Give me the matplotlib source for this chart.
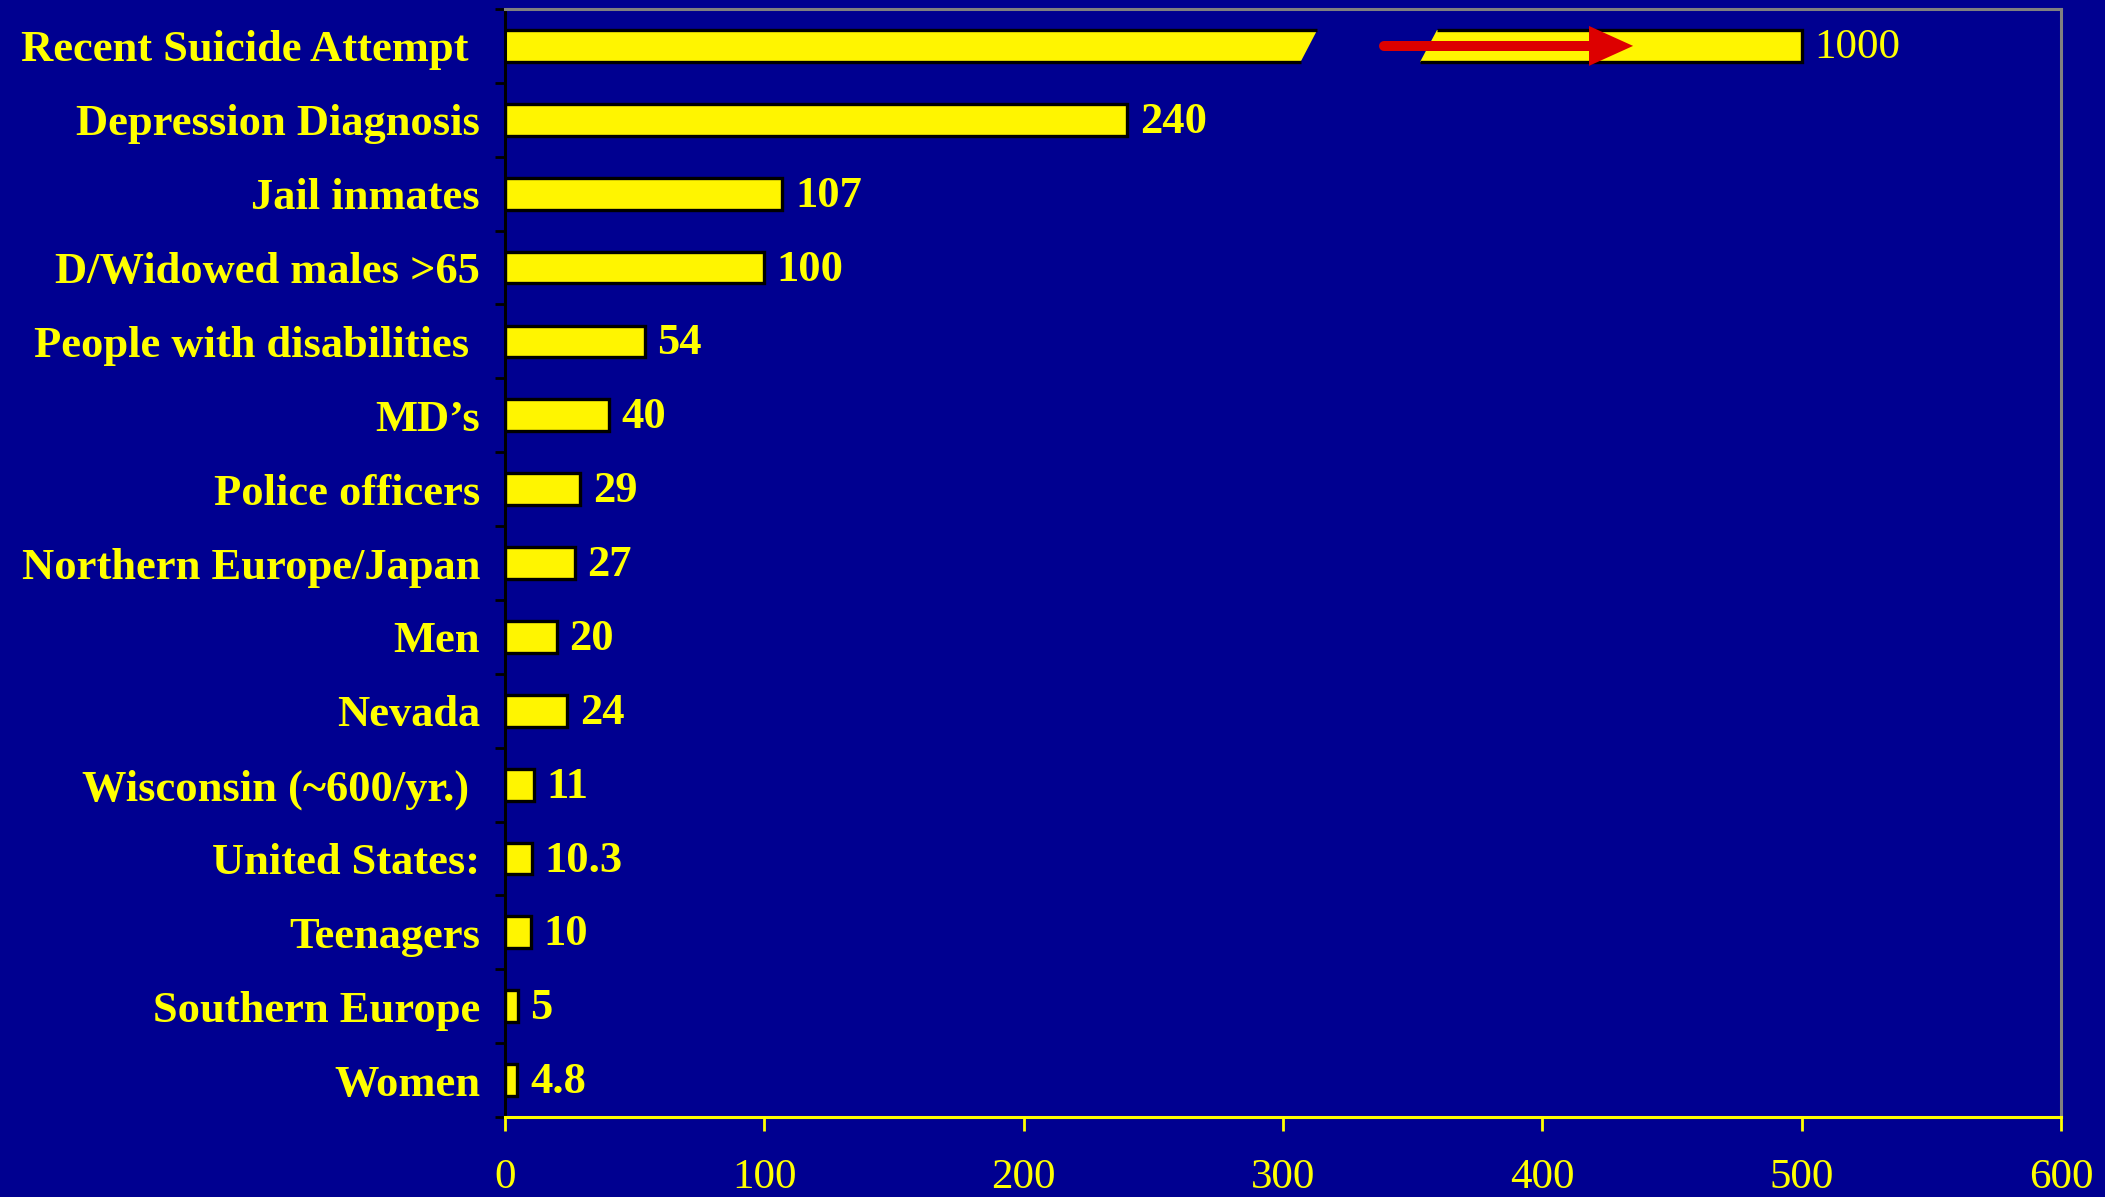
import matplotlib
matplotlib.use('Agg')
import matplotlib.pyplot as plt
from matplotlib.patches import Polygon
import numpy as np

# ---- data ----
categories = ["Recent Suicide Attempt ", "Depression Diagnosis", "Jail inmates",
              "D/Widowed males >65", "People with disabilities ", "MD\u2019s",
              "Police officers", "Northern Europe/Japan", "Men", "Nevada",
              "Wisconsin (~600/yr.) ", "United States:", "Teenagers", "Southern Europe",
              "Women"]
values = [1000, 240, 107, 100, 54, 40, 29, 27, 20, 24, 11, 10.3, 10, 5, 4.8]
value_labels = ["1000", "240", "107", "100", "54", "40", "29", "27", "20", "24",
                "11", "10.3", "10", "5", "4.8"]
x_ticks = [0, 100, 200, 300, 400, 500, 600]

# broken bar (value off the scale)
break_start = 310
break_end = 356
broken_bar_end = 500
arrow_tail = 339
arrow_head_base = 418
arrow_tip = 435

# ---- style ----
BG = '#000090'
YEL = '#FFFF00'
BARY = '#FFF500'
RED = '#DD0000'
GREY = '#808080'
FONT = 'Liberation Serif'

fig = plt.figure(figsize=(21.05, 11.97), dpi=100, facecolor=BG)
ax = fig.add_axes([0.2399, 0.0668, 0.9791 - 0.2399, 0.9925 - 0.0668])
ax.set_facecolor(BG)

y = np.arange(len(categories))
h = 0.43
lw = 2.4

# regular bars
ax.barh(y[1:], values[1:], height=h, color=BARY, edgecolor='black', linewidth=lw, zorder=3)

# broken first bar
y0 = y[0]
top, bot = y0 - h / 2, y0 + h / 2   # axis inverted: top is smaller y
s = 3.2
seg1 = Polygon([(0, top), (break_start + s, top), (break_start - s, bot), (0, bot)],
               closed=True, facecolor=BARY, edgecolor='none', zorder=3)
seg2 = Polygon([(break_end + s, top), (broken_bar_end, top), (broken_bar_end, bot),
                (break_end - s, bot)], closed=True, facecolor=BARY, edgecolor='none', zorder=3)
ax.add_patch(seg1)
ax.add_patch(seg2)
ax.plot([0, break_start + s], [top, top], color='black', lw=lw, zorder=4, solid_capstyle='butt')
ax.plot([0, break_start - s], [bot, bot], color='black', lw=lw, zorder=4, solid_capstyle='butt')
ax.plot([break_end + s, broken_bar_end, broken_bar_end, break_end - s],
        [top, top, bot, bot], color='black', lw=lw, zorder=4, solid_joinstyle='miter',
        solid_capstyle='butt')

# red arrow
ax.plot([arrow_tail, arrow_head_base], [y0, y0], color=RED, lw=7.2,
        solid_capstyle='round', zorder=5)
hw = 0.27
head = Polygon([(arrow_head_base, y0 - hw), (arrow_tip, y0), (arrow_head_base, y0 + hw)],
               closed=True, facecolor=RED, edgecolor='none', zorder=6)
ax.add_patch(head)

# value labels
for i, (v, lab) in enumerate(zip(values, value_labels)):
    if i == 0:
        ax.annotate(lab, xy=(broken_bar_end, y[i]), xytext=(9, -1.5), textcoords='offset points',
                    ha='left', va='center', color=YEL, fontsize=31, family=FONT,
                    fontweight='normal', zorder=6)
    else:
        ax.annotate(lab, xy=(v, y[i]), xytext=(9, -1.5), textcoords='offset points',
                    ha='left', va='center', color=YEL, fontsize=32, family=FONT,
                    fontweight='bold', zorder=6)

# axes
ax.set_xlim(0, 600)
ax.set_ylim(len(categories) - 0.5, -0.5)
ax.set_xticks(x_ticks)
ax.set_xticklabels([str(t) for t in x_ticks], color=YEL, fontsize=31, family=FONT)
ax.tick_params(axis='x', direction='out', length=10, width=2, color=YEL, pad=20)

ax.set_yticks(np.arange(len(categories) + 1) - 0.5)
ax.set_yticklabels([])
ax.tick_params(axis='y', which='major', direction='out', length=7.2, width=2, color='black')
ax.set_yticks(y, minor=True)
ax.set_yticklabels(categories, minor=True, color=YEL, fontsize=32, family=FONT,
                   fontweight='bold')
ax.tick_params(axis='y', which='minor', length=0, pad=18)

ax.spines['left'].set_color('black')
ax.spines['left'].set_linewidth(2.2)
ax.spines['bottom'].set_color(YEL)
ax.spines['bottom'].set_linewidth(2.2)
ax.spines['top'].set_color(GREY)
ax.spines['top'].set_linewidth(2.2)
ax.spines['right'].set_color(GREY)
ax.spines['right'].set_linewidth(2.2)
for sp in ax.spines.values():
    sp.set_zorder(7)

fig.savefig('out.png', dpi=100, facecolor=BG)
